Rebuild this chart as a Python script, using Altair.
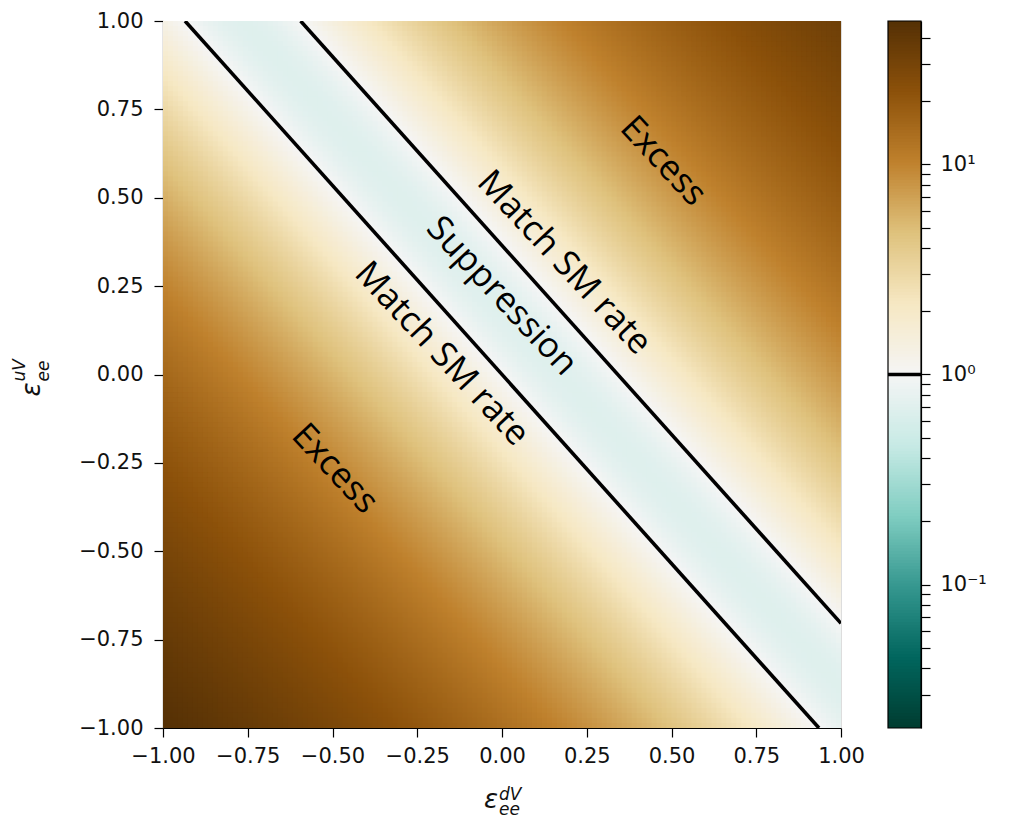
import numpy as np
import pandas as pd
import altair as alt

alt.data_transformers.disable_max_rows()

# ---------------- values ----------------
x_ticks = [-1.0, -0.75, -0.5, -0.25, 0.0, 0.25, 0.5, 0.75, 1.0]
y_ticks = [-1.0, -0.75, -0.5, -0.25, 0.0, 0.25, 0.5, 0.75, 1.0]

# colour bar: range and ticks
ratio_max = 48.0
cbar_major = [0.1, 1.0, 10.0]
cbar_minor = [0.03, 0.04, 0.05, 0.06, 0.07, 0.08, 0.09,
              0.2, 0.3, 0.4, 0.5, 0.6, 0.7, 0.8, 0.9,
              2, 3, 4, 5, 6, 7, 8, 9, 20, 30, 40]
# brown-blue-green (reversed) colour stops, low -> high
cmap_colors = ["#003c30", "#01665e", "#35978f", "#80cdc1", "#c7eae5", "#f5f5f5",
               "#f6e8c3", "#dfc27d", "#bf812d", "#8c510a", "#543005"]

# field: ratio depends on s = eps_u + k*eps_d ; =1 on s=0 and s=s_match
k_slope = 1.069        # contour slope (eps_u = -k * eps_d)
s_match = 0.365        # eps_u intercept of the upper "Match SM rate" line
band_floor = 0.69      # ratio inside the suppression band

# ratio = 1 contours (end points read from the frame edges)
line_id = ["lower", "lower", "upper", "upper"]
line_x = [-0.935, 0.935, -0.594, 1.0]
line_y = [1.0, -1.0, 1.0, -0.704]

# annotations
ann_text = ["Excess", "Match SM rate", "Suppression", "Match SM rate", "Excess"]
ann_x = [0.476, 0.184, 0.0, -0.177, -0.493]
ann_y = [0.604, 0.317, 0.222, 0.059, -0.266]
ann_angle = 47

# ---------------- build tables ----------------
W, H = 678, 707
nx, ny = 136, 141
xe = np.linspace(-1, 1, nx + 1)
ye = np.linspace(-1, 1, ny + 1)
dx = xe[1] - xe[0]
dy = ye[1] - ye[0]
rows = []
for j in range(ny):
    yc = 0.5 * (ye[j] + ye[j + 1])
    for i in range(nx):
        xc = 0.5 * (xe[i] + xe[i + 1])
        s = yc + k_slope * xc
        r = band_floor + (1 - band_floor) * (1 - 2 * s / s_match) ** 2
        rows.append((round(xe[i], 5), round(xe[i] + 1.3 * dx, 5),
                     round(ye[j], 5), round(ye[j] + 1.3 * dy, 5), round(r, 5)))
heat = pd.DataFrame(rows, columns=["x0", "x1", "y0", "y1", "R"])

lines = pd.DataFrame({"id": line_id, "x": line_x, "y": line_y})
ann = pd.DataFrame({"text": ann_text, "x": ann_x, "y": ann_y})

nb = 240
be = np.logspace(np.log10(1 / ratio_max), np.log10(ratio_max), nb + 1)
strips = pd.DataFrame({"lo": be[:-1], "hi": np.minimum(be[1:] * 1.03, ratio_max),
                       "R": np.sqrt(be[:-1] * be[1:])})

lmin, lmax = np.log10(1 / ratio_max), np.log10(ratio_max)
cmap_domain = [float(10 ** (lmin + i * (lmax - lmin) / 10)) for i in range(11)]
color_scale = alt.Scale(type="log", domain=cmap_domain, range=cmap_colors,
                        interpolate="rgb", clamp=True)

xs = alt.Scale(domain=[-1, 1], nice=False, zero=False)
ys = alt.Scale(domain=[-1, 1], nice=False, zero=False)

axis_common = dict(labelFont="DejaVu Sans", labelFontSize=21, labelColor="#111",
                   tickColor="black", domainColor="black", tickSize=9,
                   tickWidth=1.2, domainWidth=1.2, grid=False, title=None,
                   labelOverlap=False)

heatmap = alt.Chart(heat).mark_rect(clip=True, strokeWidth=0).encode(
    x=alt.X("x0:Q", scale=xs,
            axis=alt.Axis(values=x_ticks, format=".2f", labelFlush=False,
                          labelPadding=8, orient="bottom", **axis_common)),
    x2="x1:Q",
    y=alt.Y("y0:Q", scale=ys,
            axis=alt.Axis(values=y_ticks, format=".2f", labelPadding=11,
                          orient="left", **axis_common)),
    y2="y1:Q",
    color=alt.Color("R:Q", scale=color_scale, legend=None),
)

contours = alt.Chart(lines).mark_line(color="black", strokeWidth=3.6, clip=True).encode(
    x=alt.X("x:Q", scale=xs), y=alt.Y("y:Q", scale=ys), detail="id:N")

labels = alt.Chart(ann).mark_text(font="Open Sans", fontSize=35, angle=ann_angle,
                                  color="black", align="center", baseline="middle").encode(
    x=alt.X("x:Q", scale=xs), y=alt.Y("y:Q", scale=ys), text="text:N")

# axis titles (epsilon with stacked sub/superscripts)
tfont = dict(font="DejaVu Sans", fontStyle="italic", color="#111")
xt_eps = alt.Chart(pd.DataFrame({"t": ["ε"]})).mark_text(
    fontSize=26, align="right", baseline="alphabetic", dx=-4, **tfont).encode(
    x=alt.datum(0, scale=xs), y=alt.value(H + 80), text="t:N")
xt_sup = alt.Chart(pd.DataFrame({"t": ["dV"]})).mark_text(
    fontSize=17, align="left", baseline="alphabetic", dx=-3, **tfont).encode(
    x=alt.datum(0, scale=xs), y=alt.value(H + 72), text="t:N")
xt_sub = alt.Chart(pd.DataFrame({"t": ["ee"]})).mark_text(
    fontSize=17, align="left", baseline="alphabetic", dx=-3, **tfont).encode(
    x=alt.datum(0, scale=xs), y=alt.value(H + 87), text="t:N")

yt_eps = alt.Chart(pd.DataFrame({"t": ["ε"]})).mark_text(
    fontSize=26, align="right", baseline="alphabetic", angle=270, dx=-8, **tfont).encode(
    x=alt.value(-123), y=alt.datum(0, scale=ys), text="t:N")
yt_sup = alt.Chart(pd.DataFrame({"t": ["uV"]})).mark_text(
    fontSize=17, align="left", baseline="alphabetic", angle=270, dx=-7, dy=-15, **tfont).encode(
    x=alt.value(-123), y=alt.datum(0, scale=ys), text="t:N")
yt_sub = alt.Chart(pd.DataFrame({"t": ["ee"]})).mark_text(
    fontSize=17, align="left", baseline="alphabetic", angle=270, dx=-7, dy=9, **tfont).encode(
    x=alt.value(-123), y=alt.datum(0, scale=ys), text="t:N")

main = alt.layer(heatmap, contours, labels, xt_eps, xt_sup, xt_sub,
                 yt_eps, yt_sup, yt_sub)

# colour bar
cb_left, cb_right = 725, 758
cys = alt.Scale(type="log", domain=[1 / ratio_max, ratio_max], nice=False, zero=False)
label_expr = ("datum.value == 10 ? '10¹' : datum.value == 1 ? '10⁰' : "
              "datum.value == 0.1 ? '10⁻¹' : ''")
cb_strips = alt.Chart(strips).mark_rect(strokeWidth=0).encode(
    x=alt.value(cb_left), x2=alt.value(cb_right),
    y=alt.Y("lo:Q", scale=cys,
            axis=alt.Axis(orient="right", offset=cb_right - W,
                          values=cbar_major + cbar_minor, labelExpr=label_expr,
                          labelPadding=10, **axis_common)),
    y2="hi:Q",
    color=alt.Color("R:Q", scale=color_scale, legend=None),
)
cb_frame = alt.Chart(pd.DataFrame({"a": [1 / ratio_max], "b": [ratio_max]})).mark_rect(
    fillOpacity=0, stroke="black", strokeWidth=1.2).encode(
    x=alt.value(cb_left), x2=alt.value(cb_right),
    y=alt.Y("a:Q", scale=cys), y2="b:Q")
cb_level = alt.Chart(pd.DataFrame({"lev": [1.0]})).mark_rule(
    color="black", strokeWidth=3.6).encode(
    x=alt.value(cb_left), x2=alt.value(cb_right), y=alt.Y("lev:Q", scale=cys))

cbar = alt.layer(cb_strips, cb_frame, cb_level)

chart = alt.layer(main, cbar).resolve_scale(y="independent").properties(
    width=W, height=H,
    autosize=alt.AutoSizeParams(type="none"),
    padding={"left": 163, "top": 21, "right": 1010 - 163 - W, "bottom": 820 - 21 - H},
).configure_view(stroke="black", strokeWidth=1.2).configure(background="white")

chart.save("out.html", embed_options={"renderer": "svg", "actions": False})
